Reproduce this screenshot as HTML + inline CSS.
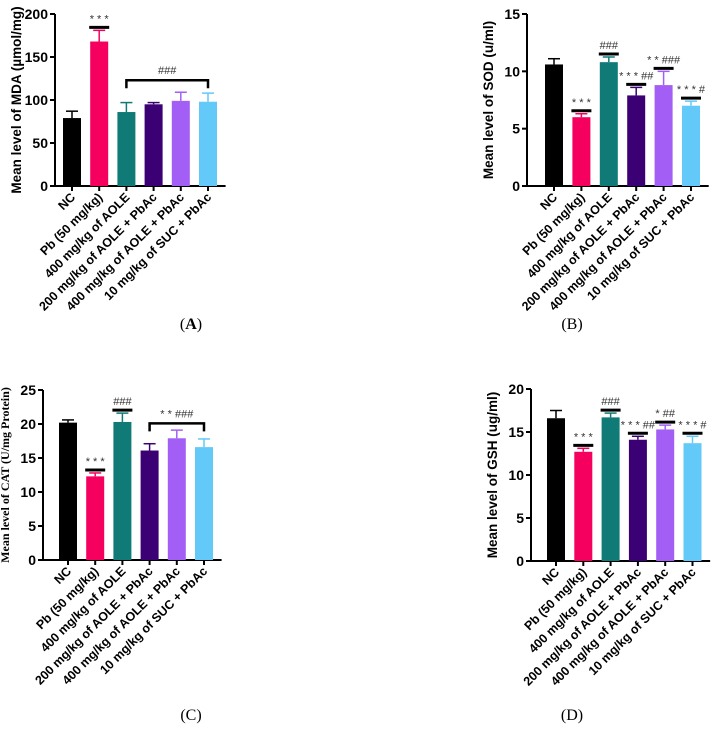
<!DOCTYPE html>
<html><head><meta charset="utf-8"><style>
body{margin:0;background:#fff;width:718px;height:739px;overflow:hidden}
svg{display:block}
</style></head><body>
<svg id="c" width="718" height="739" viewBox="0 0 718 739" xmlns="http://www.w3.org/2000/svg" font-family="Liberation Sans, Arial, sans-serif"></svg>
<script>
const categories=["NC","Pb (50 mg/kg)","400 mg/kg of AOLE","200 mg/kg of AOLE + PbAc","400 mg/kg of AOLE + PbAc","10 mg/kg of SUC + PbAc"];
const colors=["#000000","#f5005f","#107a76","#3b0073","#a35ef5","#62c9f9"];
const mdaValues=[79,168,86,95,99,98];
const mdaErrors=[8,13,11,2,10,10];
const mdaTicks=[0,50,100,150,200];
const sodValues=[10.6,6.0,10.8,7.9,8.8,7.0];
const sodErrors=[0.5,0.3,0.45,0.7,1.2,0.4];
const sodTicks=[0,5,10,15];
const catValues=[20.2,12.3,20.3,16.1,17.9,16.6];
const catErrors=[0.4,0.5,1.3,1.0,1.2,1.2];
const catTicks=[0,5,10,15,20,25];
const gshValues=[16.6,12.7,16.7,14.1,15.3,13.7];
const gshErrors=[0.9,0.4,0.5,0.4,0.5,0.8];
const gshTicks=[0,5,10,15,20];
const sodMarks=["","* * *","###","* * * ##","* * ###","* * * #"];
const gshMarks=["","* * *","###","* * * ##","* ##","* * * #"];
const catMarks=["","* * *","###","","",""];
const mdaMarks=["","* * *","","","",""];

const S=document.getElementById('c');
const NS="http://www.w3.org/2000/svg";
function mk(t,a,p){const e=document.createElementNS(NS,t);for(const k in a)e.setAttribute(k,a[k]);(p||S).appendChild(e);return e;}

function panel(o){
  const g=mk('g',{});
  
  
  const max=o.ticks[o.ticks.length-1];
  const y=v=>o.y0-(v/max)*(o.y0-o.yTop);
  const x=i=>o.x0+o.first+i*o.step;
  mk('line',{x1:o.x0,y1:o.yTop,x2:o.x0,y2:o.y0,stroke:'#000','stroke-width':2},g);
  mk('line',{x1:o.x0,y1:o.y0,x2:x(5)+o.step/2+4,y2:o.y0,stroke:'#000','stroke-width':2},g);
  o.ticks.forEach(t=>{
    mk('line',{x1:o.x0-5,y1:y(t),x2:o.x0,y2:y(t),stroke:'#000','stroke-width':2},g);
    const tx=mk('text',{x:o.x0-7,y:y(t)+5,'text-anchor':'end','font-size':14,'font-weight':'bold'},g);
    tx.textContent=t;
    
    
  });
  const yt=mk('text',{transform:`translate(${o.x0-34},${(o.yTop+o.y0)/2}) rotate(-90)`,'text-anchor':'middle','font-size':o.serif?12:13.5,'font-weight':'bold',style:o.serif?'font-family:"Liberation Serif",serif':'font-family:"Liberation Sans",sans-serif'},g);
  yt.textContent=o.ylabel;
  
  
  categories.forEach((c,i)=>{
    const cx=x(i),v=o.values[i],e=o.errors[i];
    const r=mk('rect',{x:cx-9,y:y(v),width:18,height:o.y0-y(v),fill:colors[i]},g);
    
    
    const ec=i==0?'#000':colors[i];
    mk('line',{x1:cx,y1:y(v),x2:cx,y2:y(v+e),stroke:ec,'stroke-width':1.5},g);
    mk('line',{x1:cx-6,y1:y(v+e),x2:cx+6,y2:y(v+e),stroke:ec,'stroke-width':1.5},g);
    mk('line',{x1:cx,y1:o.y0,x2:cx,y2:o.y0+5,stroke:'#000','stroke-width':2},g);
    const l=mk('text',{transform:`translate(${cx+4},${o.y0+12}) rotate(-45)`,'text-anchor':'end','font-size':12.5,'font-weight':'bold'},g);
    l.textContent=c;
    
    
    const m=o.marks[i];
    if(m){
      const cy=y(v+e)-3;
      mk('line',{x1:cx-10,y1:cy,x2:cx+10,y2:cy,stroke:'#000','stroke-width':3},g);
      const t=mk('text',{x:cx,y:cy-5,'text-anchor':'middle','font-size':11,fill:'#333'},g);
      t.textContent=m;
      
      
    }
  });
  if(o.bracket){
    const b=o.bracket,by=y(b.v);
    mk('path',{d:`M${x(b.from)},${by+8}V${by}H${x(b.to)}V${by+8}`,fill:'none',stroke:'#000','stroke-width':2.5},g);
    const t=mk('text',{x:(x(b.from)+x(b.to))/2,y:by-6,'text-anchor':'middle','font-size':11,fill:'#333'},g);
    t.textContent=b.label;
    
    
  }
  const cap=mk('text',{x:o.capX,y:o.capY,'text-anchor':'middle','font-size':16,style:'font-family:"Liberation Serif",serif'},g);
  cap.innerHTML=o.cap;
  
  
}
panel({name:'panel-a-mda',x0:55,y0:186,yTop:14,first:17,step:27.2,ticks:mdaTicks,values:mdaValues,errors:mdaErrors,marks:mdaMarks,ylabel:'Mean level of MDA (µmol/mg)',bracket:{from:2,to:5,v:123,label:'###'},capX:191,capY:329,cap:'(<tspan font-weight="bold">A</tspan>)'});
panel({name:'panel-b-sod',x0:527,y0:186,yTop:14,first:27,step:27.4,ticks:sodTicks,values:sodValues,errors:sodErrors,marks:sodMarks,ylabel:'Mean level of SOD (u/ml)',capX:572,capY:329,cap:'(B)'});
panel({name:'panel-c-cat',x0:43,y0:560,yTop:390,first:25,step:27.2,ticks:catTicks,values:catValues,errors:catErrors,marks:catMarks,ylabel:'Mean level of CAT (U/mg Protein)',serif:true,bracket:{from:3,to:5,v:20.1,label:'* * ###'},capX:191,capY:720,cap:'(C)'});
panel({name:'panel-d-gsh',x0:531,y0:561,yTop:389,first:25,step:27.3,ticks:gshTicks,values:gshValues,errors:gshErrors,marks:gshMarks,ylabel:'Mean level of GSH (ug/ml)',capX:572,capY:720,cap:'(D)'});
</script>
</body></html>
